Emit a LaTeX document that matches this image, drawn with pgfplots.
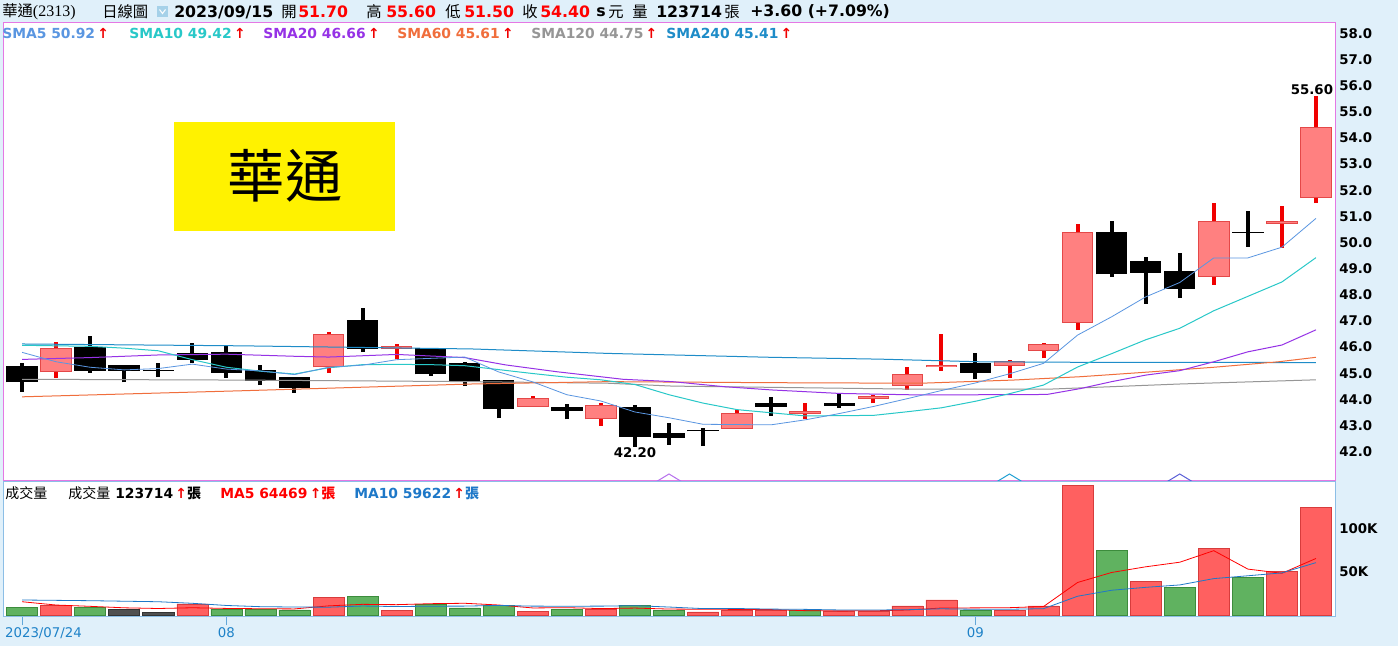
\documentclass[border=0pt]{standalone}
\usepackage{pgfplots}
\pgfplotsset{compat=1.18}
\usepackage{pgfplotstable}
\usepackage{fontspec}
\setmainfont{DejaVu Sans}
\newfontfamily\cjk{Noto Sans CJK TC}
\newfontfamily\numserif{Liberation Serif}

\definecolor{bgblue}{RGB}{224,240,250}
\definecolor{panelmag}{RGB}{228,120,228}
\definecolor{volframe}{RGB}{140,190,230}
\definecolor{wickred}{RGB}{240,0,0}
\definecolor{bodyfill}{RGB}{255,128,128}
\definecolor{bodyedge}{RGB}{228,72,72}
\definecolor{volred}{RGB}{255,96,96}
\definecolor{volredline}{RGB}{215,60,60}
\definecolor{volgreen}{RGB}{96,178,96}
\definecolor{volgreenline}{RGB}{60,140,60}
\definecolor{volflat}{RGB}{80,80,80}
\definecolor{smaA}{RGB}{90,150,225}
\definecolor{smaB}{RGB}{40,200,200}
\definecolor{smaC}{RGB}{150,50,230}
\definecolor{smaD}{RGB}{240,110,60}
\definecolor{smaE}{RGB}{150,150,150}
\definecolor{smaF}{RGB}{30,140,200}
\definecolor{datecol}{RGB}{30,130,200}
\definecolor{maten}{RGB}{30,120,200}

% candles: x open high low close
\pgfplotstableread{
x o h l c
2 45.03 46.21 44.83 45.95
10 45.23 46.57 45.02 46.49
12 45.92 46.11 45.54 46.04
16 43.72 44.13 43.72 44.04
18 43.24 43.87 42.99 43.79
22 42.87 43.60 42.87 43.47
24 43.45 43.85 43.25 43.55
26 44.02 44.17 43.85 44.13
27 44.51 45.23 44.37 44.97
28 45.23 46.50 45.10 45.32
30 45.29 45.50 44.83 45.48
31 45.86 46.17 45.57 46.11
32 46.93 50.71 46.65 50.39
36 48.69 51.52 48.38 50.82
38 50.70 51.41 49.78 50.82
39 51.70 55.60 51.50 54.40
}\upcandles

\pgfplotstableread{
x o h l c
1 45.29 45.38 44.30 44.65
3 46.02 46.42 45.02 45.09
4 45.32 45.32 44.65 45.10
5 45.11 45.38 44.85 45.08
6 45.76 46.17 45.38 45.51
7 45.82 46.04 44.83 45.02
8 45.12 45.32 44.55 44.72
9 44.84 44.84 44.26 44.42
11 47.04 47.48 45.81 45.92
13 45.98 45.98 44.91 44.96
14 45.40 45.44 44.51 44.70
15 44.74 44.74 43.28 43.63
17 43.72 43.82 43.24 43.55
19 43.72 43.77 42.20 42.57
20 42.70 43.09 42.26 42.52
21 42.83 42.89 42.22 42.78
23 43.85 44.08 43.38 43.72
25 43.85 44.26 43.68 43.75
29 45.38 45.76 44.77 45.02
33 50.39 50.82 48.69 48.78
34 49.30 49.46 47.65 48.85
35 48.92 49.61 47.87 48.21
37 50.41 51.22 49.84 50.38
}\downcandles

% volume in thousands
\pgfplotstableread{
x v
2 10.7
6 12.7
10 20.7
12 5.0
16 4.6
18 6.9
21 3.5
22 5.8
23 5.8
25 3.8
26 3.8
27 10.4
28 17.3
30 5.0
31 10.4
32 149.0
34 38.4
36 76.8
38 50.7
39 123.7
}\volup

\pgfplotstableread{
x v
1 8.4
3 8.4
7 6.9
8 6.6
9 5.8
11 21.5
13 12.3
14 8.1
15 10.7
17 6.6
19 11.2
20 5.0
24 5.0
29 5.8
33 74.9
35 31.5
37 43.0
}\voldown

\pgfplotstableread{
x v
4 6.9
5 3.1
}\volsame

\begin{document}
\begin{tikzpicture}[x=0.75pt,y=-0.75pt]
\fill[bgblue] (0,0) rectangle (1398,646);

% ---- price panel
\begin{axis}[
  at={(2.25pt,-360pt)}, anchor=south west, scale only axis,
  width=999pt, height=342.75pt,
  xmin=0.44, xmax=39.56, ymin=40.92, ymax=58.39,
  axis background/.style={fill=white},
  axis line style={draw=panelmag, line width=0.75pt},
  xtick=\empty,
  ytick={42,43,...,58},
  yticklabels={42.0,43.0,44.0,45.0,46.0,47.0,48.0,49.0,50.0,51.0,52.0,53.0,54.0,55.0,56.0,57.0,58.0},
  yticklabel pos=right, major tick length=0pt,
  yticklabel style={font=\fontsize{10}{12}\selectfont\bfseries, inner sep=0pt, xshift=3pt},
]
% wicks
\addplot[draw=none, error bars/.cd, y dir=plus, y explicit, error mark=none,
  error bar style={line width=3pt, draw=wickred}]
  table[x=x, y=l, y error plus expr=\thisrow{h}-\thisrow{l}] {\upcandles};
\addplot[draw=none, error bars/.cd, y dir=plus, y explicit, error mark=none,
  error bar style={line width=3pt, draw=black}]
  table[x=x, y=l, y error plus expr=\thisrow{h}-\thisrow{l}] {\downcandles};
% bodies
\addplot[draw=none, error bars/.cd, y dir=plus, y explicit, error mark=none,
  error bar style={line width=23.6pt, draw=bodyedge}]
  table[x=x, y=o, y error plus expr=\thisrow{c}-\thisrow{o}] {\upcandles};
\addplot[draw=none, error bars/.cd, y dir=plus, y explicit, error mark=none,
  error bar style={line width=22.1pt, draw=bodyfill}]
  table[x=x, y expr=\thisrow{o}+0.038, y error plus expr=\thisrow{c}-\thisrow{o}-0.076] {\upcandles};
\addplot[draw=none, error bars/.cd, y dir=plus, y explicit, error mark=none,
  error bar style={line width=23.6pt, draw=black}]
  table[x=x, y=c, y error plus expr=\thisrow{o}-\thisrow{c}] {\downcandles};

% moving averages
\addplot[smaF, line width=0.75pt] coordinates {(1,46.12) (7.4,46.05) (14.2,45.93) (18.2,45.76) (23,45.61) (26.2,45.54) (29.1,45.44) (32,45.42) (39,45.41)};
\addplot[smaE, line width=0.75pt] coordinates {(1,44.77) (7.4,44.74) (14.2,44.68) (18.2,44.62) (20.1,44.51) (27.4,44.39) (31.1,44.39) (35,44.59) (39,44.75)};
\addplot[smaD, line width=0.75pt] coordinates {(1,44.10) (7.4,44.33) (14.2,44.59) (18.2,44.68) (23,44.64) (27.4,44.62) (30.1,44.74) (32.1,44.87) (34,45.04) (36,45.23) (37.9,45.44) (39,45.61)};
\addplot[smaC, line width=0.75pt] coordinates {(1,45.53) (3,45.60) (5,45.70) (7,45.73) (9,45.65) (10,45.62) (12,45.72) (14,45.60) (15.2,45.32) (16.7,45.06) (18.65,44.77) (20.1,44.68) (21.6,44.49) (23.05,44.36) (25,44.23) (27.4,44.17) (31.1,44.19) (32.1,44.42) (33,44.68) (34,44.93) (35,45.10) (36,45.44) (37,45.82) (38,46.08) (39,46.66)};
\addplot[smaB, line width=0.75pt] coordinates {(1,46.07) (2,46.05) (3,46.03) (4,45.96) (5,45.86) (6,45.52) (7,45.23) (8,45.08) (9,44.97) (10,45.21) (11,45.33) (12,45.34) (13,45.33) (14,45.29) (15,45.14) (16,44.99) (17,44.85) (18,44.75) (19,44.57) (20,44.18) (21,43.86) (22,43.61) (23,43.49) (24,43.37) (25,43.38) (26,43.39) (27,43.53) (28,43.68) (29,43.93) (30,44.22) (31,44.55) (32,45.24) (33,45.75) (34,46.28) (35,46.72) (36,47.39) (37,47.94) (38,48.49) (39,49.42)};
\addplot[smaA, line width=0.6pt] coordinates {(1,45.80) (2,45.44) (3,45.23) (4,45.13) (5,45.18) (6,45.35) (7,45.16) (8,45.09) (9,44.95) (10,45.23) (11,45.31) (12,45.52) (13,45.57) (14,45.62) (15,45.05) (16,44.67) (17,44.18) (18,43.94) (19,43.52) (20,43.30) (21,43.05) (22,43.04) (23,43.03) (24,43.22) (25,43.46) (26,43.73) (27,44.03) (28,44.34) (29,44.63) (30,44.98) (31,45.38) (32,46.46) (33,47.16) (34,47.92) (35,48.47) (36,49.41) (37,49.41) (38,49.82) (39,50.92)};

% small markers at the bottom edge
\addplot[smaC!70, line width=0.75pt] coordinates {(19.62,40.85) (20,41.15) (20.38,40.85)};
\addplot[smaB!80!blue, line width=0.75pt] coordinates {(29.62,40.85) (30,41.15) (30.38,40.85)};
\addplot[smaC!50!smaF, line width=0.75pt] coordinates {(34.62,40.85) (35,41.15) (35.38,40.85)};

% high / low labels
\addplot[draw=none, point meta=explicit symbolic, nodes near coords, nodes near coords align={above},
  every node near coord/.append style={font=\fontsize{10}{12}\selectfont\bfseries, inner sep=0.5pt, xshift=-3pt}]
  coordinates {(39,55.60) [55.60]};
\addplot[draw=none, point meta=explicit symbolic, nodes near coords, nodes near coords align={below},
  every node near coord/.append style={font=\fontsize{10}{12}\selectfont\bfseries, inner sep=0.5pt}]
  coordinates {(19,42.20) [42.20]};
\end{axis}

% ---- volume panel
\begin{axis}[
  at={(2.25pt,-462pt)}, anchor=south west, scale only axis,
  width=999pt, height=101.25pt,
  xmin=0.44, xmax=39.56, ymin=-1.15, ymax=154.4,
  axis background/.style={fill=white},
  axis line style={draw=volframe, line width=0.75pt},
  xtick={1,7,29},
  xticklabels={{\makebox[0pt][l]{\hspace*{-12.75pt}2023/07/24}},08,09},
  xtick pos=bottom, major tick length=6.75pt,
  xtick style={draw=datecol!70, line width=0.75pt, yshift=-6.75pt},
  xticklabel style={font=\fontsize{10}{12}\selectfont, text=datecol, inner sep=0pt, yshift=-8.5pt},
  ytick={50,100}, yticklabels={50K,100K},
  yticklabel pos=right, ytick style={draw=none},
  yticklabel style={font=\fontsize{10}{12}\selectfont\bfseries, inner sep=0pt, xshift=3pt},
]
\addplot[ybar, bar width=23.25pt, bar shift=0pt, fill=volred, draw=volredline] table[x=x, y=v] {\volup};
\addplot[ybar, bar width=23.25pt, bar shift=0pt, fill=volgreen, draw=volgreenline] table[x=x, y=v] {\voldown};
\addplot[ybar, bar width=23.25pt, bar shift=0pt, fill=volflat, draw=black!80] table[x=x, y=v] {\volsame};
\addplot[red, line width=0.6pt] coordinates {(1,15.3) (2,11.5) (3,10.0) (4,8.3) (5,7.5) (6,8.36) (7,7.6) (8,7.24) (9,7.02) (10,10.54) (11,12.3) (12,11.92) (13,13.06) (14,13.52) (15,11.52) (16,8.14) (17,8.46) (18,7.38) (19,8.0) (20,6.86) (21,6.64) (22,6.48) (23,6.26) (24,5.02) (25,4.78) (26,4.84) (27,5.76) (28,8.06) (29,8.22) (30,8.46) (31,9.78) (32,37.5) (33,49.02) (34,55.54) (35,60.84) (36,74.12) (37,52.92) (38,48.08) (39,65.14)};
\addplot[maten, line width=0.6pt] coordinates {(1,17.3) (2,16.9) (3,16.5) (4,15.9) (5,15.3) (6,13.5) (7,11.0) (8,9.6) (9,9.2) (10,9.02) (11,10.33) (12,9.76) (13,10.15) (14,10.27) (15,11.03) (16,10.22) (17,10.19) (18,10.22) (19,10.76) (20,9.19) (21,7.39) (22,7.47) (23,6.82) (24,6.51) (25,5.82) (26,5.74) (27,6.12) (28,7.16) (29,6.62) (30,6.62) (31,7.31) (32,21.63) (33,28.54) (34,31.88) (35,34.65) (36,41.95) (37,45.21) (38,48.55) (39,60.34)};
\end{axis}

% ---- header line
\def\hb{\fontsize{11.8}{14}\selectfont\bfseries}
\def\hc{\fontsize{11.5}{13}\selectfont\cjk}
\node[anchor=west, inner sep=0] at (2,12) {\hc 華通{\numserif\fontsize{12}{14}\selectfont(2313)}};
\node[anchor=west, inner sep=0] at (102,12) {\hc 日線圖};
\fill[smaF!40] (157,6) rectangle (168,17);
\draw[white, line width=0.8pt] (159.5,9.5) -- (162.5,13.5) -- (165.5,9.5);
\node[anchor=west, inner sep=0] at (174,12) {\hb 2023/09/15};
\node[anchor=west, inner sep=0] at (281,12) {\hc 開};
\node[anchor=west, inner sep=0] at (298,12) {\hb\color{red}51.70};
\node[anchor=west, inner sep=0] at (366,12) {\hc 高};
\node[anchor=west, inner sep=0] at (386,12) {\hb\color{red}55.60};
\node[anchor=west, inner sep=0] at (445,12) {\hc 低};
\node[anchor=west, inner sep=0] at (464,12) {\hb\color{red}51.50};
\node[anchor=west, inner sep=0] at (522,12) {\hc 收};
\node[anchor=west, inner sep=0] at (540,12) {\hb\color{red}54.40};
\node[anchor=west, inner sep=0] at (596,12) {\hb s};
\node[anchor=west, inner sep=0] at (608,12) {\hc 元};
\node[anchor=west, inner sep=0] at (632,12) {\hc 量};
\node[anchor=west, inner sep=0] at (656,12) {\hb 123714};
\node[anchor=west, inner sep=0] at (724,12) {\hc 張};
\node[anchor=west, inner sep=0] at (750,12) {\hb +3.60 (+7.09\%)};

% ---- moving average legend
\def\lg{\fontsize{10.4}{12}\selectfont\bfseries}
\def\up{{\color{wickred}\bfseries ↑}}
\node[anchor=west, inner sep=0] at (2,33) {\lg\color{smaA}SMA5 50.92\,\up};
\node[anchor=west, inner sep=0] at (129,33) {\lg\color{smaB}SMA10 49.42\,\up};
\node[anchor=west, inner sep=0] at (263,33) {\lg\color{smaC}SMA20 46.66\,\up};
\node[anchor=west, inner sep=0] at (397,33) {\lg\color{smaD}SMA60 45.61\,\up};
\node[anchor=west, inner sep=0] at (531,33) {\lg\color{smaE}SMA120 44.75\,\up};
\node[anchor=west, inner sep=0] at (666,33) {\lg\color{smaF}SMA240 45.41\,\up};

% ---- name box
\fill[yellow] (174,122) rectangle (395,231);
\node[inner sep=0] at (285,176) {\cjk\fontsize{43}{45}\selectfont 華通};

% ---- volume legend
\def\vc{\fontsize{10.5}{12}\selectfont\cjk}
\node[anchor=west, inner sep=0] at (5,493) {\vc 成交量};
\node[anchor=west, inner sep=0] at (68,493) {\vc 成交量};
\node[anchor=west, inner sep=0] at (115,493) {\lg 123714\,\up{\vc 張}};
\node[anchor=west, inner sep=0] at (220,493) {\lg\color{red}MA5 64469\,\up{\vc\color{red}張}};
\node[anchor=west, inner sep=0] at (354,493) {\lg\color{maten}MA10 59622\,\up{\vc\color{maten}張}};
\end{tikzpicture}
\end{document}
